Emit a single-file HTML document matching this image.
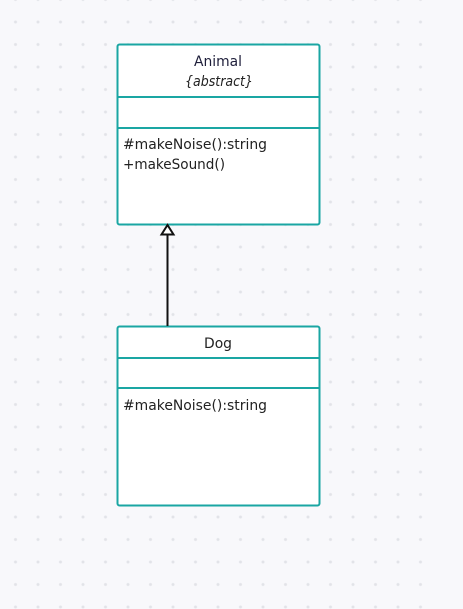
<!DOCTYPE html>
<html><head><meta charset="utf-8"><style>
html,body{margin:0;padding:0;}
body{width:463px;height:609px;overflow:hidden;background:#f8f8fb;font-family:"DejaVu Sans",sans-serif;}
</style></head><body>
<svg width="463" height="609" xmlns="http://www.w3.org/2000/svg" style="position:absolute;left:0;top:0">
<defs><pattern id="d" x="4.25" y="-11.75" width="22.5" height="22.5" patternUnits="userSpaceOnUse"><circle cx="11.25" cy="11.25" r="1.5" fill="#e2e3e8"/></pattern></defs>
<rect x="0" y="0" width="432" height="609" fill="url(#d)"/>
<g fill="#fff" stroke="#1aa6a3" stroke-width="2">
<rect x="117.5" y="44.5" width="202" height="180" rx="2"/>
<line x1="117.5" y1="97" x2="319.5" y2="97"/>
<line x1="117.5" y1="128" x2="319.5" y2="128"/>
<rect x="117.5" y="326.5" width="202" height="179" rx="2"/>
<line x1="117.5" y1="358" x2="319.5" y2="358"/>
<line x1="117.5" y1="388" x2="319.5" y2="388"/>
</g>
<line x1="167.5" y1="234" x2="167.5" y2="326" stroke="#111" stroke-width="2"/>
<polygon points="167.5,225 161.5,234.5 173.5,234.5" fill="#fff" stroke="#111" stroke-width="2"/>
<g font-family="DejaVu Sans, sans-serif" font-size="14" fill="#222">
<text x="194" y="66" textLength="48" lengthAdjust="spacingAndGlyphs" fill="#1e1e3a">Animal</text>
<text x="185" y="86" textLength="68" lengthAdjust="spacingAndGlyphs" font-style="italic">{abstract}</text>
<text x="123" y="149" textLength="144" lengthAdjust="spacingAndGlyphs">#makeNoise():string</text>
<text x="123" y="169" textLength="102" lengthAdjust="spacingAndGlyphs">+makeSound()</text>
<text x="204" y="348" textLength="28" lengthAdjust="spacingAndGlyphs">Dog</text>
<text x="123" y="410" textLength="144" lengthAdjust="spacingAndGlyphs">#makeNoise():string</text>
</g>
</svg>
</body></html>
